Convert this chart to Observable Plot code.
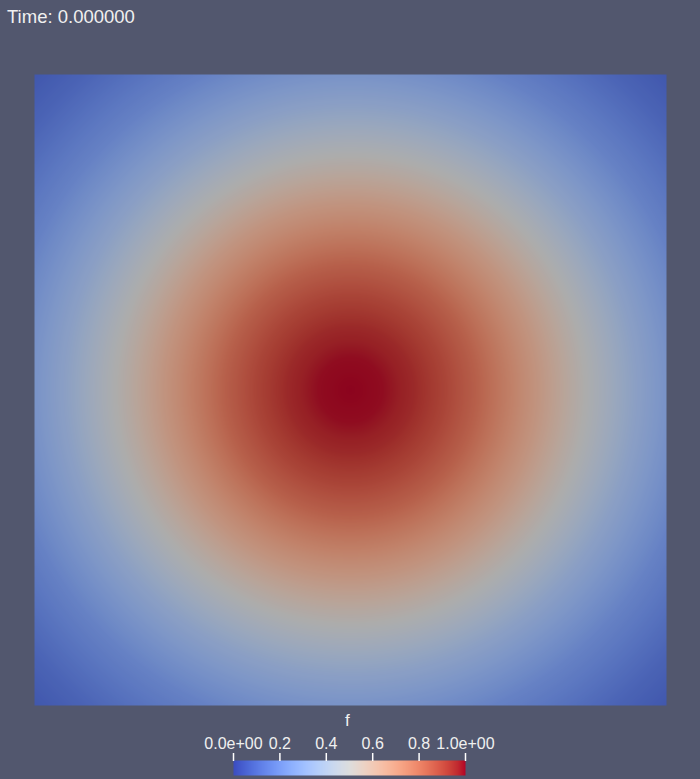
<!DOCTYPE html>
<html>
<head>
<meta charset="utf-8">
<script src="https://cdn.jsdelivr.net/npm/d3@7"></script>
<script src="https://cdn.jsdelivr.net/npm/@observablehq/plot@0.6"></script>
<style>
  html, body { margin: 0; padding: 0; background: #52576e; }
  #wrap { position: relative; width: 700px; height: 779px; background: #52576e; overflow: hidden; }
  #wrap > * { position: absolute; }
  .lbl { color: #f0f0f0; font-family: "Liberation Sans", Arial, sans-serif; white-space: nowrap; line-height: 1; }
</style>
</head>
<body>
<div id="wrap"></div>
<script>
// ---- data ----
// radial profile of the field f (distance from the square's centre, domain units 0..1)
const radius = [0, 0.05, 0.10, 0.15, 0.20, 0.25, 0.30, 0.35, 0.40, 0.45, 0.50, 0.55, 0.60, 0.65, 0.71];
const fValue = [1.00, 0.99, 0.95, 0.89, 0.82, 0.73, 0.64, 0.54, 0.45, 0.36, 0.29, 0.22, 0.17, 0.12, 0.08];
// colour bar ticks
const tickValues = [0, 0.2, 0.4, 0.6, 0.8, 1.0];
const tickLabels = ["0.0e+00", "0.2", "0.4", "0.6", "0.8", "1.0e+00"];
// Cool to Warm colour map (33 stops)
const mapColors = [
  "rgb(59,76,192)", "rgb(68,90,204)", "rgb(77,104,215)", "rgb(87,117,225)", "rgb(98,130,234)",
  "rgb(108,142,241)", "rgb(119,154,247)", "rgb(130,165,251)", "rgb(141,176,254)", "rgb(152,185,255)",
  "rgb(163,194,255)", "rgb(174,201,253)", "rgb(184,208,249)", "rgb(194,213,244)", "rgb(204,217,238)",
  "rgb(213,219,230)", "rgb(221,221,221)", "rgb(229,216,209)", "rgb(236,211,197)", "rgb(241,204,185)",
  "rgb(245,196,173)", "rgb(247,187,160)", "rgb(247,177,148)", "rgb(247,166,135)", "rgb(244,154,123)",
  "rgb(241,141,111)", "rgb(236,127,99)", "rgb(229,112,88)", "rgb(222,96,77)", "rgb(213,80,66)",
  "rgb(203,62,56)", "rgb(192,40,47)", "rgb(180,4,38)"
];
const titleText = "Time: 0.000000";
const fieldName = "f";

// ---- rendering ----
const shade = 0.78; // lighting on the rendered surface
const mapStops = mapColors.map((c, i) => i / (mapColors.length - 1));
const coolWarm = d3.scaleLinear(mapStops, mapColors).interpolate(d3.interpolateRgb).clamp(true);
const shaded = t => { const c = d3.rgb(coolWarm(t)); return d3.rgb(c.r * shade, c.g * shade, c.b * shade).formatHex(); };
const profile = d3.scaleLinear(radius, fValue).clamp(true);

const wrap = document.getElementById("wrap");

const field = Plot.plot({
  width: 700, height: 779,
  marginLeft: 34, marginRight: 34, marginTop: 74, marginBottom: 74,
  style: { background: "transparent" },
  x: { domain: [0, 1], axis: null },
  y: { domain: [0, 1], axis: null },
  color: { type: "linear", domain: [0, 1], interpolate: shaded },
  marks: [
    Plot.raster({ x1: 0, x2: 1, y1: 0, y2: 1, pixelSize: 1,
      fill: (x, y) => profile(Math.hypot(x - 0.5, y - 0.5)) })
  ]
});
field.style.left = "0px"; field.style.top = "0px";
wrap.appendChild(field);

const bar = Plot.plot({
  width: 700, height: 79,
  marginLeft: 233, marginRight: 235, marginTop: 60, marginBottom: 4,
  style: { background: "transparent", color: "#f0f0f0", fontFamily: "Liberation Sans, Arial, sans-serif" },
  x: { domain: [0, 1] },
  y: { domain: [0, 1], axis: null },
  color: { type: "linear", domain: [0, 1], interpolate: coolWarm },
  marks: [
    Plot.raster({ x1: 0, x2: 1, y1: 0, y2: 1, pixelSize: 1, fill: (x, y) => x }),
    Plot.axisX({ anchor: "top", ticks: tickValues, tickFormat: (d, i) => tickLabels[tickValues.indexOf(d)],
      tickSize: 8, tickPadding: 4, fontSize: 16, stroke: "#ffffff", strokeWidth: 1.5, fill: "#f0f0f0", label: null })
  ]
});
bar.style.left = "0px"; bar.style.top = "700px";
wrap.appendChild(bar);

const title = document.createElement("div");
title.className = "lbl";
title.textContent = titleText;
title.style.cssText += "left:7px; top:8px; font-size:18.5px;";
wrap.appendChild(title);

const fname = document.createElement("div");
fname.className = "lbl";
fname.textContent = fieldName;
fname.style.cssText += "left:345px; top:712px; font-size:17px;";
wrap.appendChild(fname);
</script>
</body>
</html>
